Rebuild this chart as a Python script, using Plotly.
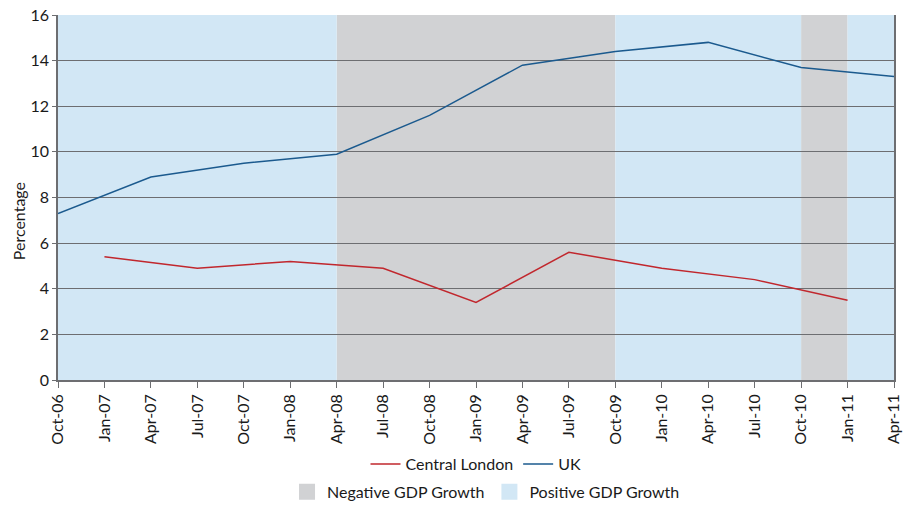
import plotly.graph_objects as go

# Quarterly category labels
quarters = ["Oct-06", "Jan-07", "Apr-07", "Jul-07", "Oct-07", "Jan-08", "Apr-08",
            "Jul-08", "Oct-08", "Jan-09", "Apr-09", "Jul-09", "Oct-09", "Jan-10",
            "Apr-10", "Jul-10", "Oct-10", "Jan-11", "Apr-11"]

# Central London: half-yearly observations (Jan / Jul)
london_dates = ["Jan-07", "Jul-07", "Jan-08", "Jul-08", "Jan-09", "Jul-09",
                "Jan-10", "Jul-10", "Jan-11"]
london_values = [5.4, 4.9, 5.2, 4.9, 3.4, 5.6, 4.9, 4.4, 3.5]

# UK: half-yearly observations (Apr / Oct)
uk_dates = ["Oct-06", "Apr-07", "Oct-07", "Apr-08", "Oct-08", "Apr-09",
            "Oct-09", "Apr-10", "Oct-10", "Apr-11"]
uk_values = [7.3, 8.9, 9.5, 9.9, 11.6, 13.8, 14.4, 14.8, 13.7, 13.3]

# GDP growth periods (start, end)
negative_periods = [("Apr-08", "Oct-09"), ("Oct-10", "Jan-11")]
positive_periods = [("Oct-06", "Apr-08"), ("Oct-09", "Oct-10"), ("Jan-11", "Apr-11")]

RED = "#C1272D"
BLUE = "#1B5A8E"
GREY_FILL = "#D1D2D4"
BLUE_FILL = "#D2E7F5"
AXIS = "#6D6E71"
FONT = "Lato"


def on_quarters(dates, values):
    lookup = dict(zip(dates, values))
    return [lookup.get(q) for q in quarters]


fig = go.Figure()

fig.add_trace(go.Scatter(
    x=quarters, y=on_quarters(london_dates, london_values), name="Central London",
    mode="lines", connectgaps=True, line=dict(color=RED, width=1.5), legend="legend"))
fig.add_trace(go.Scatter(
    x=quarters, y=on_quarters(uk_dates, uk_values), name="UK",
    mode="lines", connectgaps=True, line=dict(color=BLUE, width=1.5), legend="legend"))

# Legend entries for the shaded periods
fig.add_trace(go.Scatter(
    x=[None], y=[None], name="Negative GDP Growth", mode="markers",
    marker=dict(symbol="square", size=20, color=GREY_FILL), legend="legend2"))
fig.add_trace(go.Scatter(
    x=[None], y=[None], name="Positive GDP Growth", mode="markers",
    marker=dict(symbol="square", size=20, color=BLUE_FILL), legend="legend2"))

shapes = []
for periods, colour in ((negative_periods, GREY_FILL), (positive_periods, BLUE_FILL)):
    for a, b in periods:
        shapes.append(dict(type="rect", xref="x", yref="paper",
                           x0=quarters.index(a), x1=quarters.index(b), y0=0, y1=1,
                           fillcolor=colour, line=dict(width=0), layer="below"))

fig.update_layout(
    width=914, height=505,
    margin=dict(l=58, r=20, t=15, b=125, autoexpand=False),
    paper_bgcolor="white", plot_bgcolor="white",
    font=dict(family=FONT, size=16, color="#1a1a1a"),
    shapes=shapes,
    annotations=[dict(text="Percentage", textangle=-90, xref="paper", yref="paper",
                      x=0, y=0.435, xanchor="center", yanchor="middle", xshift=-40,
                      showarrow=False, font=dict(size=16))],
    legend=dict(orientation="h", x=0.5, xanchor="center",
                yref="container", y=0.081, yanchor="middle",
                font=dict(size=16), traceorder="normal", itemwidth=30),
    legend2=dict(orientation="h", x=0.512, xanchor="center",
                 yref="container", y=0.026, yanchor="middle",
                 font=dict(size=16), traceorder="normal", itemwidth=30),
    xaxis=dict(type="category", categoryorder="array", categoryarray=quarters,
               range=[0, len(quarters) - 1], tickangle=-90, automargin=False,
               ticks="outside", ticklen=6, tickcolor=AXIS,
               showline=True, linecolor=AXIS, linewidth=1.5,
               showgrid=False, tickfont=dict(size=16)),
    yaxis=dict(range=[0, 16], dtick=2, ticks="outside", ticklen=4, automargin=False,
               tickcolor=AXIS, showline=True, mirror=True,
               linecolor=AXIS, linewidth=1.5,
               gridcolor=AXIS, gridwidth=1.3, zeroline=False,
               tickfont=dict(size=16)),
)

fig.write_html("out.html")
